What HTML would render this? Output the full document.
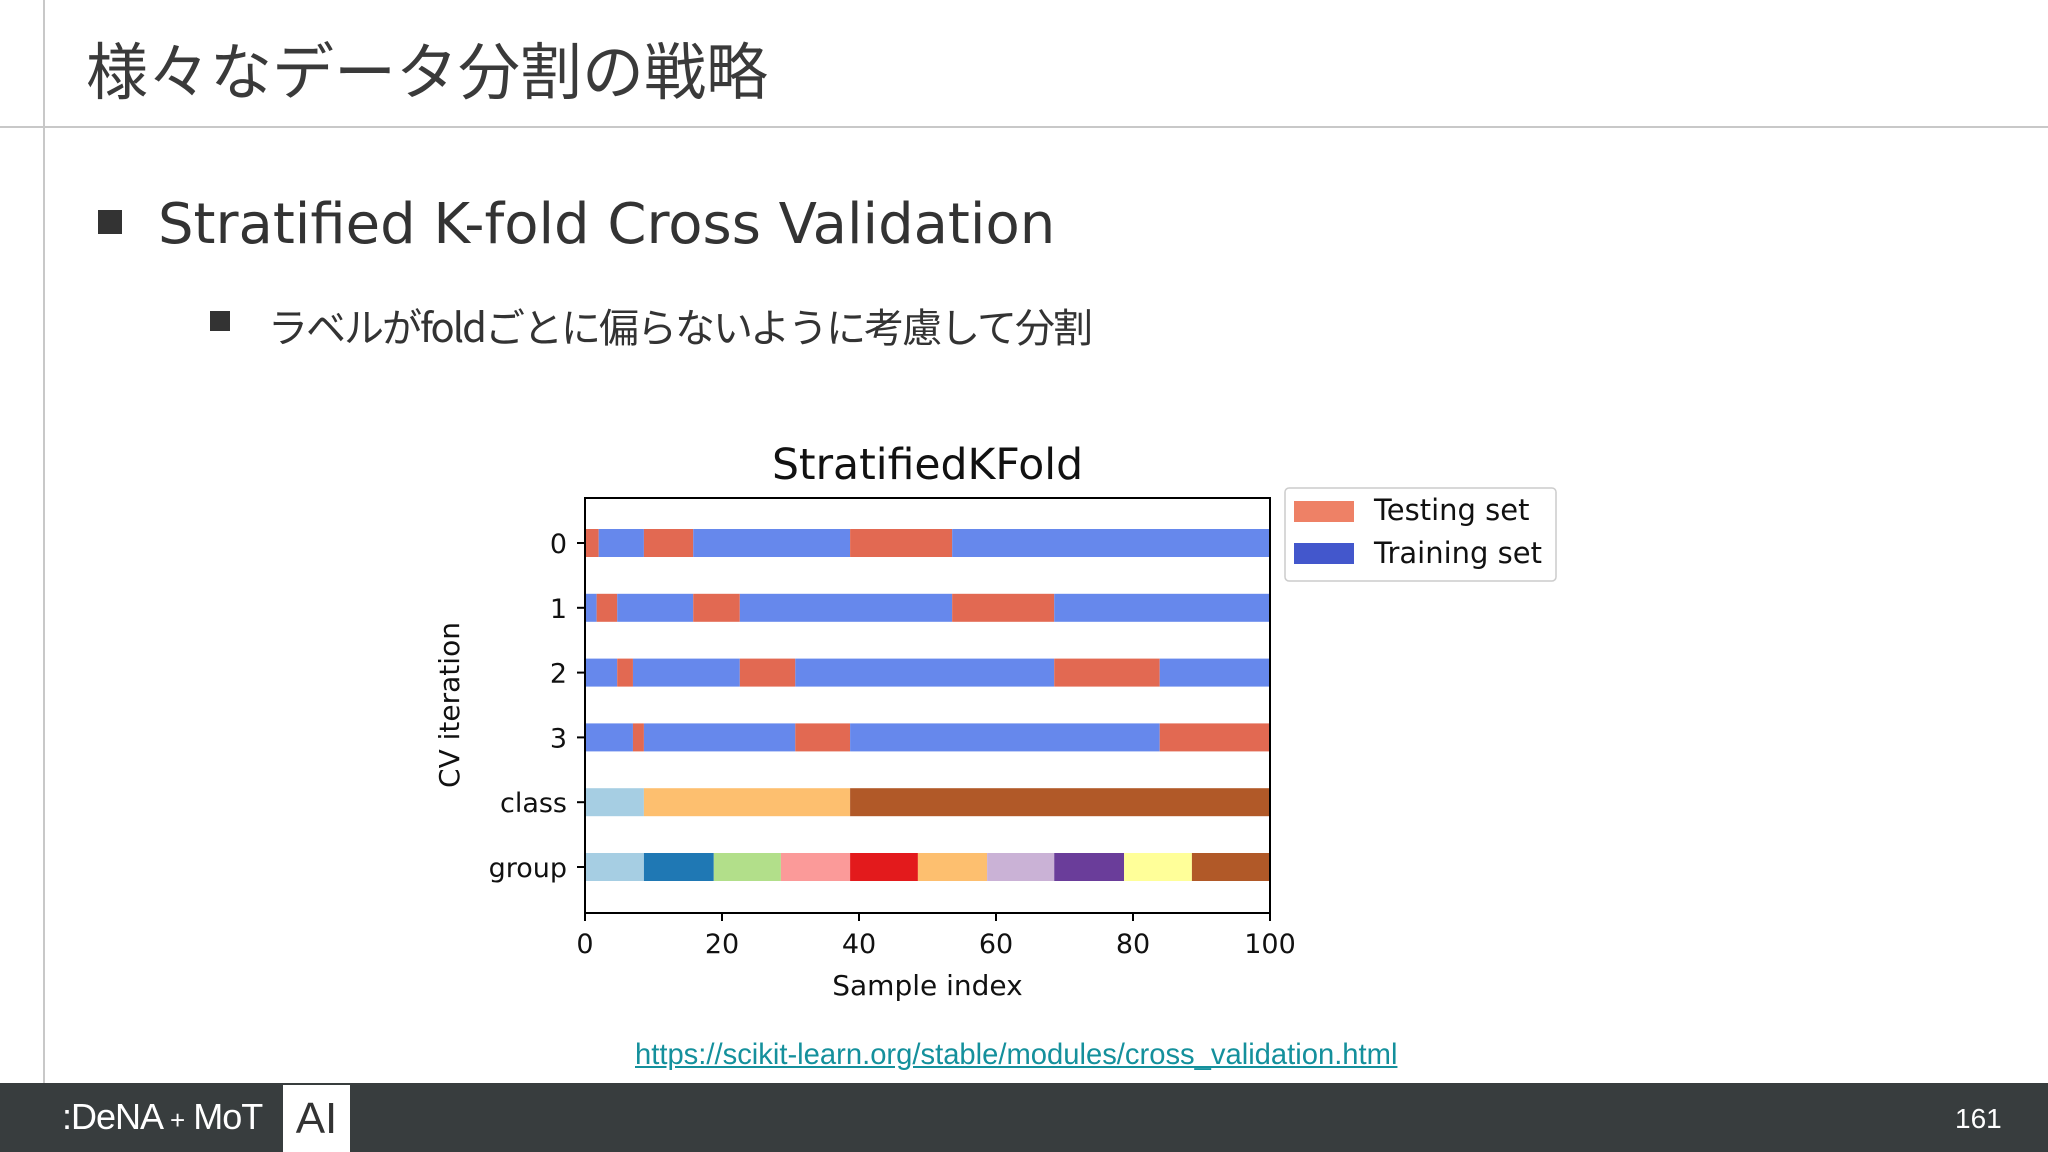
<!DOCTYPE html>
<html><head><meta charset="utf-8"><style>
html,body{margin:0;padding:0;width:2048px;height:1152px;overflow:hidden;background:#fff;font-family:"Liberation Sans","Noto Sans CJK JP",sans-serif;}
.abs{position:absolute;}
</style></head><body>
<div class="abs" style="left:43px;top:0;width:2px;height:1083px;background:#c8c8c8"></div>
<div class="abs" style="left:0;top:126px;width:2048px;height:2px;background:#c8c8c8"></div>
<div class="abs" style="left:86px;top:22px;font-size:62px;color:#3a3a3a;font-family:'Noto Sans CJK JP',sans-serif;white-space:nowrap">様々なデータ分割の戦略</div>
<div class="abs" style="left:98px;top:210px;width:24px;height:24px;background:#333"></div>
<div class="abs" style="left:158px;top:192px;font-size:56px;color:#333;white-space:nowrap;font-family:'DejaVu Sans',sans-serif">Stratified K-fold Cross Validation</div>
<div class="abs" style="left:210px;top:311px;width:20px;height:20px;background:#333"></div>
<div class="abs" style="left:268px;top:296px;font-size:40px;color:#333;white-space:nowrap;font-family:'Noto Sans CJK JP',sans-serif;letter-spacing:-2px">ラベルがfoldごとに偏らないように考慮して分割</div>

<svg class="abs" style="left:0;top:0" width="2048" height="1152">
<g id="chart" font-family="DejaVu Sans, Liberation Sans, sans-serif"></g>
</svg>

<a class="abs" href="#" style="left:635px;top:1039px;font-size:29.2px;color:#14909c;text-decoration:underline;white-space:nowrap">https://scikit-learn.org/stable/modules/cross_validation.html</a>

<div class="abs" style="left:0;top:1083px;width:2048px;height:69px;background:#383d3e"></div>
<div class="abs" style="left:62px;top:1096px;font-size:36px;color:#fff;white-space:nowrap;letter-spacing:-1px">:DeNA <span style="font-size:26px">+</span> MoT</div>
<div class="abs" style="left:283px;top:1085px;width:67px;height:67px;background:#fff;color:#333;font-size:44px;text-align:center;line-height:67px">AI</div>
<div class="abs" style="left:1955px;top:1103px;font-size:28px;color:#fff">161</div>

<script>
const rowLabels = ["0","1","2","3","class","group"];
// fold rows: segment boundaries and type (1 = test, 0 = train)
const fold0 = [[0,2,1],[2,8.6,0],[8.6,15.8,1],[15.8,38.7,0],[38.7,53.6,1],[53.6,100,0]];
const fold1 = [[0,1.7,0],[1.7,4.7,1],[4.7,15.8,0],[15.8,22.6,1],[22.6,53.6,0],[53.6,68.5,1],[68.5,100,0]];
const fold2 = [[0,4.7,0],[4.7,7,1],[7,22.6,0],[22.6,30.7,1],[30.7,68.5,0],[68.5,83.9,1],[83.9,100,0]];
const fold3 = [[0,7,0],[7,8.6,1],[8.6,30.7,0],[30.7,38.7,1],[38.7,83.9,0],[83.9,100,1]];
const classBounds = [0,8.6,38.7,100];
const groupBounds = [0,8.6,18.8,28.6,38.7,48.6,58.7,68.5,78.7,88.6,100];
const xTicks = [0,20,40,60,80,100];
const classColors = ["#a6cee3","#fdbf6f","#b15928"];
const groupColors = ["#a6cee3","#1f78b4","#b2df8a","#fb9a99","#e31a1c","#fdbf6f","#cab2d6","#6a3d9a","#ffff99","#b15928"];

const NS="http://www.w3.org/2000/svg";
const g=document.getElementById('chart');
const L=585,R=1270,T=498,B=913;
const x=v=>L+(v/100)*(R-L);
const rowY=[543,608,673,738,802,867];
const y=i=>rowY[0]+i*((rowY[5]-rowY[0])/5);
const BH=28;
function el(t,a){const e=document.createElementNS(NS,t);for(const k in a)e.setAttribute(k,a[k]);g.appendChild(e);return e;}
function txt(s,a){const e=el('text',a);e.textContent=s;return e;}

[fold0,fold1,fold2,fold3].forEach((f,i)=>{
  f.forEach(s=>{
    const r=el('rect',{x:x(s[0]),y:y(i)-BH/2,width:x(s[1])-x(s[0]),height:BH,fill:s[2]?'#e26952':'#6688ec'});
    
    
  });
});
for(let k=0;k<classBounds.length-1;k++){
  const r=el('rect',{x:x(classBounds[k]),y:y(4)-BH/2,width:x(classBounds[k+1])-x(classBounds[k]),height:BH,fill:classColors[k]});
  
  
}
for(let k=0;k<groupBounds.length-1;k++){
  const r=el('rect',{x:x(groupBounds[k]),y:y(5)-BH/2,width:x(groupBounds[k+1])-x(groupBounds[k]),height:BH,fill:groupColors[k]});
  
  
}
const frame=el('rect',{x:L,y:T,width:R-L,height:B-T,fill:'none',stroke:'#000','stroke-width':2});


rowLabels.forEach((lab,i)=>{
  el('line',{x1:L-8,x2:L,y1:y(i),y2:y(i),stroke:'#000','stroke-width':2});
  const t=txt(lab,{x:L-18,y:y(i)+10,'text-anchor':'end','font-size':27,fill:'#111'});
  
  
});
xTicks.forEach(v=>{
  el('line',{x1:x(v),x2:x(v),y1:B,y2:B+8,stroke:'#000','stroke-width':2});
  const t=txt(String(v),{x:x(v),y:B+40,'text-anchor':'middle','font-size':27,fill:'#111'});
  
  
});
const ct=txt('StratifiedKFold',{x:(L+R)/2,y:479,'text-anchor':'middle','font-size':42.5,fill:'#111'});


const xl=txt('Sample index',{x:(L+R)/2,y:995,'text-anchor':'middle','font-size':28,fill:'#111'});


const yl=txt('CV iteration',{x:0,y:0,'text-anchor':'middle','font-size':28,fill:'#111',transform:'translate(459,705) rotate(-90)'});


const lg=el('rect',{x:1285,y:488,width:271,height:93,rx:4,fill:'#fff',stroke:'#ccc','stroke-width':1.5});


el('rect',{x:1294,y:501,width:60,height:21,fill:'#ee8166'});
el('rect',{x:1294,y:543,width:60,height:21,fill:'#4357cc'});
const l1=txt('Testing set',{x:1374,y:520,'font-size':29,fill:'#111'});


const l2=txt('Training set',{x:1374,y:563,'font-size':29,fill:'#111'});


</script>
</body></html>
